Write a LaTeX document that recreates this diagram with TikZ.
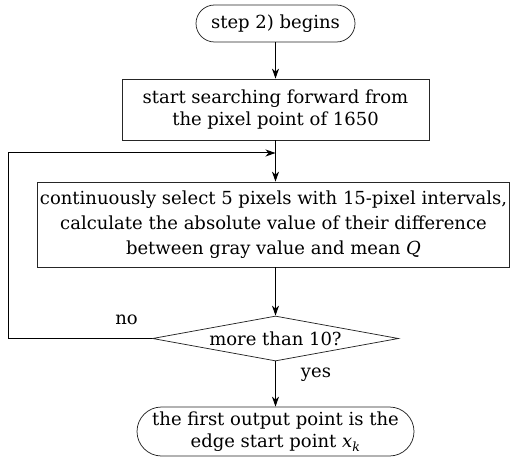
\documentclass[tikz,border=0pt]{standalone}
\usepackage{fontspec}
\setmainfont{DejaVu Serif}
\usetikzlibrary{shapes.geometric,arrows.meta}
\begin{document}
\begin{tikzpicture}[x=1pt,y=-1pt,
  every node/.style={font=\fontsize{18}{22.5}\selectfont},
  box/.style={draw=black!85,line width=0.75pt,align=center,inner sep=0pt},
  term/.style={box,rounded corners=18.5pt},
  decision/.style={draw=black!85,line width=0.75pt,shape=diamond,shape aspect=5.4,inner sep=0pt},
  conn/.style={line width=1pt,-{Stealth[length=10pt,width=7pt,inset=3pt]}},
  lbl/.style={inner sep=0pt}]
\useasboundingbox (0,0) rectangle (511,457);
\node[term,minimum width=159pt,minimum height=37pt] (start) at (275.5,23.5) {step 2) begins};
\node[box,minimum width=307pt,minimum height=61pt] (search) at (275.5,109.5) {start searching forward from\\the pixel point of 1650};
\node[box,minimum width=472pt,minimum height=85pt,font=\fontsize{18}{25}\selectfont] (select) at (273.5,224.5) {continuously select 5 pixels with 15-pixel intervals,\\calculate the absolute value of their difference\\between gray value and mean \textit{Q}};
\node[decision,minimum width=246pt,minimum height=45pt] (dec) at (275.5,338.5) {more than 10?};
\node[term,rounded corners=24.5pt,minimum width=277pt,minimum height=49pt] (end) at (275.5,431.5) {the first output point is the\\edge start point \textit{x}\textsubscript{\textit{k}}};
\coordinate (join) at (275.5,153);
\coordinate (cornerA) at (8,338.5);
\coordinate (cornerB) at (8,153);
\draw[conn] (start.south) -- (search.north);
\draw[conn] (search.south) -- (search.south |- select.north);
\draw[conn] (dec.west) -- (cornerA) -- (cornerB) -- (join);
\draw[conn] (dec.north |- select.south) -- (dec.north);
\draw[conn] (dec.south) -- (end.north);
\node[lbl] (no) at (126.5,320) {no};
\node[lbl] (yes) at (316,375) {yes};
\end{tikzpicture}
\end{document}
